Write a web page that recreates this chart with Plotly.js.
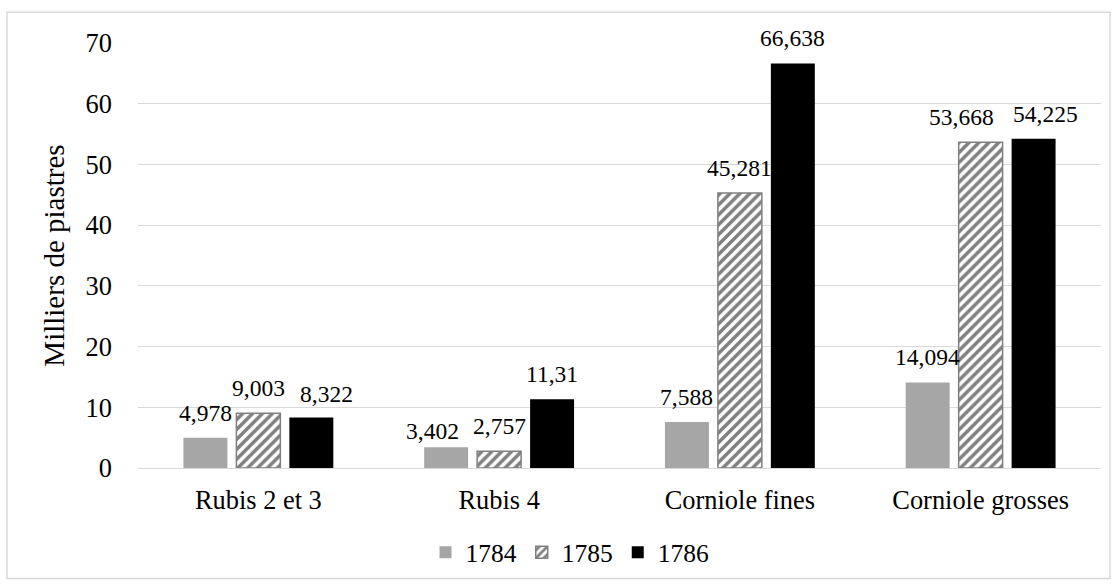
<!DOCTYPE html>
<html>
<head>
<meta charset="utf-8">
<script src="https://cdn.plot.ly/plotly-3.0.1.min.js"></script>
<style>html,body{margin:0;padding:0;background:#fff;}#chart{width:1118px;height:588px;}</style>
</head>
<body>
<div id="chart"></div>
<script>
const categories = ["Rubis 2 et 3", "Rubis 4", "Corniole fines", "Corniole grosses"];
const seriesNames = ["1784", "1785", "1786"];
const values1784 = [4.978, 3.402, 7.588, 14.094];
const values1785 = [9.003, 2.757, 45.281, 53.668];
const values1786 = [8.322, 11.31, 66.638, 54.225];
const yTicks = [0, 10, 20, 30, 40, 50, 60, 70];

// label nudges (pixels) as placed in the original chart, per series / category
const labelDx = [[0, -14, 0, 0], [0, 0, 0, -19], [15, 0, 0, 12]];
const labelDy = [[0, -9, 0, 0], [0, 0, 0, 0], [-2, 0, 0, 0]];

const FONT = "Liberation Serif";
const fmt = v => String(v).replace('.', ',');

const allValues = [values1784, values1785, values1786];
const styles = [
  {color: '#a6a6a6', line: {color: '#a6a6a6', width: 0}},
  {color: '#ffffff', line: {color: '#808080', width: 1.5},
   pattern: {shape: '/', fgcolor: '#808080', bgcolor: '#ffffff', size: 7, solidity: 0.5}},
  {color: '#000000', line: {color: '#000000', width: 0}}
];

const traces = allValues.map((vals, i) => ({
  type: 'bar',
  name: seriesNames[i],
  x: categories,
  y: vals,
  marker: styles[i],
  hoverinfo: 'skip'
}));

const slot = 53;
const annotations = [];
allValues.forEach((vals, i) => {
  vals.forEach((v, j) => {
    annotations.push({
      x: categories[j], y: v, xref: 'x', yref: 'y',
      text: fmt(v), showarrow: false,
      xshift: (i - 1) * slot + labelDx[i][j], yshift: 10 + labelDy[i][j], yanchor: 'bottom',
      font: {family: FONT, size: 23.5, color: '#000000'}
    });
  });
});

const layout = {
  width: 1118, height: 588,
  margin: {l: 138, r: 17, t: 43, b: 118},
  paper_bgcolor: '#ffffff', plot_bgcolor: '#ffffff',
  font: {family: FONT, color: '#000000'},
  barmode: 'group', bargap: 0.34, bargroupgap: 0.17,
  showlegend: true,
  legend: {orientation: 'h', x: 0.4486, xanchor: 'center', y: -0.199, yanchor: 'middle',
           font: {family: FONT, size: 25.5, color: '#000000'}, itemwidth: 30, traceorder: 'normal'},
  xaxis: {type: 'category', showgrid: false, showline: false, zeroline: false, ticks: '',
          tickfont: {family: FONT, size: 26.4, color: '#000000'}, ticklabelstandoff: 14},
  yaxis: {range: [0, 70], tickvals: yTicks, ticktext: yTicks.map(String), showgrid: true, gridcolor: '#d9d9d9', gridwidth: 1,
          zeroline: true, zerolinecolor: '#d9d9d9', zerolinewidth: 1, showline: false, ticks: '',
          tickfont: {family: FONT, size: 26.4, color: '#000000'}, ticklabelstandoff: 25,
          title: {text: 'Milliers de piastres', font: {family: FONT, size: 29, color: '#000000'}, standoff: 12}},
  annotations: annotations,
  shapes: [{type: 'rect', xref: 'paper', yref: 'paper', x0: -0.136, x1: 1.0093, y0: -0.26, y1: 1.0726,
            line: {color: '#d9d9d9', width: 1.5}, fillcolor: 'rgba(0,0,0,0)', layer: 'below'}]
};

Plotly.newPlot('chart', traces, layout, {displayModeBar: false, staticPlot: true});
</script>
</body>
</html>
